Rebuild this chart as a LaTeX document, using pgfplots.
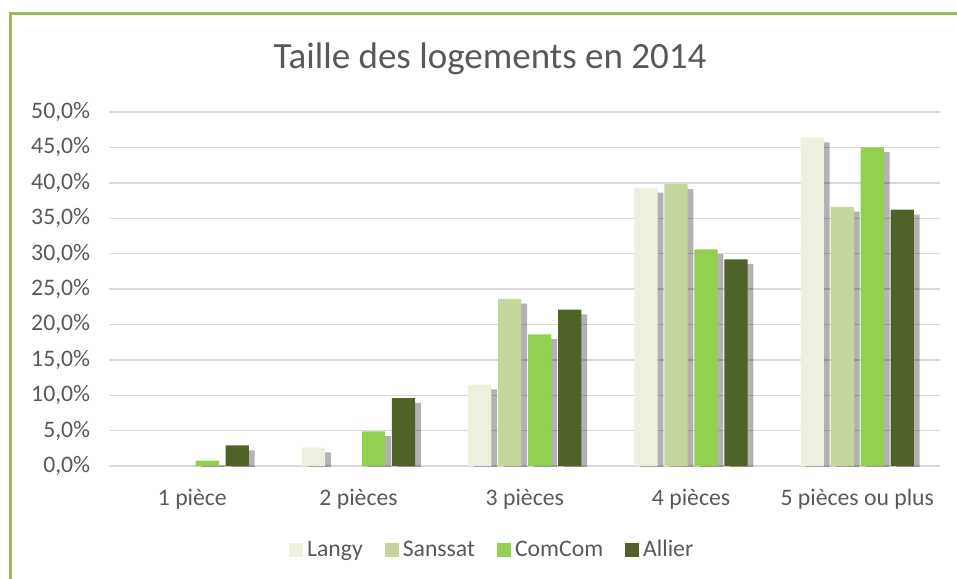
\documentclass[border=0pt]{standalone}
\usepackage{pgfplots}
\pgfplotsset{compat=1.18}
\usepackage{fontspec}
\setmainfont{Carlito}
\usetikzlibrary{shadows}
\definecolor{langy}{HTML}{EBF1DE}
\definecolor{sanssat}{HTML}{C3D69B}
\definecolor{comcom}{HTML}{92D050}
\definecolor{allier}{HTML}{4F6228}
\definecolor{txt}{HTML}{595959}
\definecolor{gridc}{HTML}{D9D9D9}
\definecolor{frame}{HTML}{9BBB59}
\begin{document}
\begin{tikzpicture}
\useasboundingbox (0pt,0pt) rectangle (478.5pt,289pt);
\draw[frame, line width=1.5pt] (5pt,-10pt) -- (5pt,282pt) -- (500pt,282pt);
\node[text=txt, font=\fontsize{18.5}{22}\selectfont, anchor=center] at (245pt,259.5pt) {Taille des logements en 2014};
\begin{axis}[
  at={(54.6pt,56pt)}, anchor=south west,
  scale only axis, width=415.6pt, height=177pt,
  xmin=-0.5, xmax=4.5, ymin=0, ymax=50,
  xtick={0,1,2,3,4},
  xticklabels={1 pièce, 2 pièces, 3 pièces, 4 pièces, 5 pièces ou plus},
  ytick={0,5,...,50},
  yticklabel={\pgfmathprintnumber[fixed,fixed zerofill,precision=1,use comma,assume math mode=true]{\tick}\%},
  ymajorgrids, grid style={gridc, line width=0.7pt},
  axis line style={draw=none},
  major tick length=0pt,
  tick label style={text=txt, font=\fontsize{11.85}{14}\selectfont},
  yticklabel style={xshift=-6pt},
  xticklabel style={yshift=-8pt},
  ybar, bar width=11.65pt,
  legend style={at={(0.462,-0.237)}, anchor=center, draw=none, legend columns=-1,
    font=\fontsize{11.85}{14}\selectfont, text=txt,
    /tikz/every even column/.append style={column sep=9pt}},
  legend image code/.code={\fill[#1] (0pt,-3.5pt) rectangle (7pt,3.5pt);},
  shad/.style={drop shadow={shadow xshift=2.8pt, shadow yshift=-2.4pt, opacity=0.3, fill=black}},
]
\addplot[forget plot, fill=langy, draw=none, bar shift=-22.5pt, shad]
  coordinates {(0,0) (1,2.6) (2,11.5) (3,39.3) (4,46.4)};
\addplot[forget plot, fill=sanssat, draw=none, bar shift=-7.5pt, shad]
  coordinates {(0,0) (1,0) (2,23.6) (3,39.8) (4,36.6)};
\addplot[forget plot, fill=comcom, draw=none, bar shift=7.5pt, shad]
  coordinates {(0,0.75) (1,4.9) (2,18.6) (3,30.6) (4,45.0)};
\addplot[forget plot, fill=allier, draw=none, bar shift=22.5pt, shad]
  coordinates {(0,2.9) (1,9.6) (2,22.1) (3,29.2) (4,36.2)};
\addlegendimage{fill=langy, draw=none}
\addlegendentry{Langy}
\addlegendimage{fill=sanssat, draw=none}
\addlegendentry{Sanssat}
\addlegendimage{fill=comcom, draw=none}
\addlegendentry{ComCom}
\addlegendimage{fill=allier, draw=none}
\addlegendentry{Allier}
\end{axis}
\end{tikzpicture}
\end{document}
